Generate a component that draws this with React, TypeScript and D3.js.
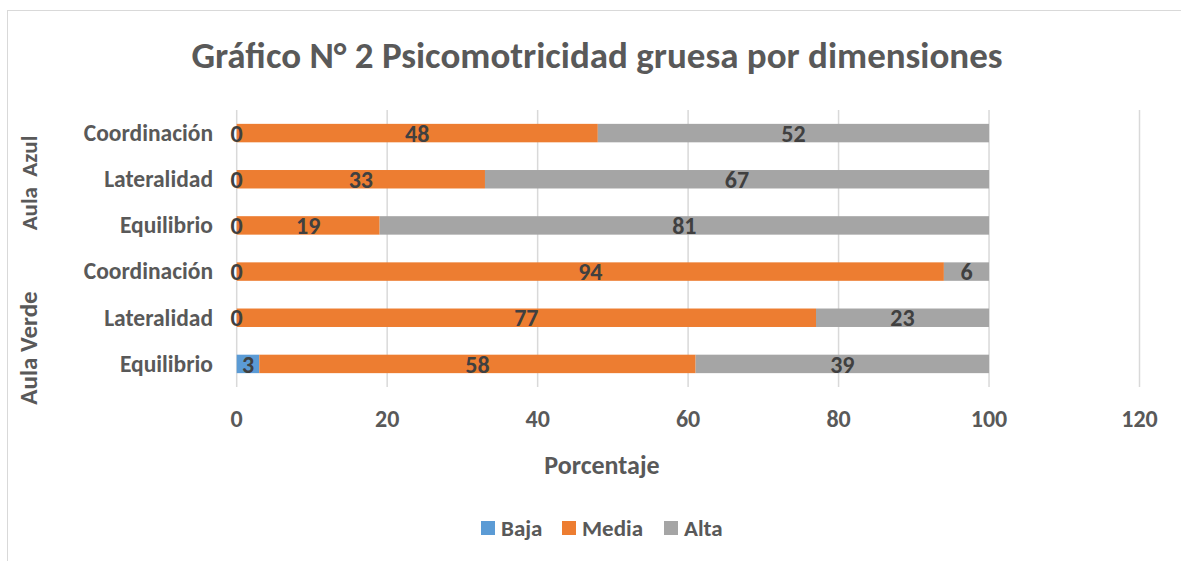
import React from "react";
import { scaleLinear, scaleBand, stack } from "d3";

const categories = ["Equilibrio", "Lateralidad", "Coordinación", "Equilibrio", "Lateralidad", "Coordinación"];
const groupNames = ["Aula Verde", "Aula  Azul"];
const baja = [3, 0, 0, 0, 0, 0];
const media = [58, 77, 94, 19, 33, 48];
const alta = [39, 23, 6, 81, 67, 52];
const seriesNames = ["Baja", "Media", "Alta"];
const xTicks = [0, 20, 40, 60, 80, 100, 120];

const W = 1181;
const H = 561;
const colors = ["#5B9BD5", "#ED7D31", "#A5A5A5"];
const font = "Calibri, Carlito, 'Open Sans', sans-serif";
const textCol = "#595959";

const rows = categories.map((c, i) => ({ id: String(i), Baja: baja[i], Media: media[i], Alta: alta[i] }));
const stacked = stack<any>().keys(seriesNames)(rows);

const x = scaleLinear().domain([0, 120]).range([236.7, 1139.5]);
// first category sits at the bottom, like excel
const y = scaleBand()
  .domain(rows.map(r => r.id).reverse())
  .range([110, 387])
  .paddingInner(0.6)
  .paddingOuter(0.3);

export default function App() {
  const bw = y.bandwidth();
  return (
    <svg width={W} height={H} style={{ position: "absolute", left: 0, top: 0, background: "#fff" }} fontFamily={font} fontWeight="bold">
      <rect x={7.5} y={10.5} width={W} height={H} fill="#fff" stroke="#D9D9D9" />
      <text x={597} y={68} textAnchor="middle" fontSize={37} fill={textCol}>
        Gráfico N° 2 Psicomotricidad gruesa por dimensiones
      </text>

      {xTicks.map(t => (
        <g key={t}>
          <line x1={x(t)} x2={x(t)} y1={110} y2={387} stroke="#D9D9D9" strokeWidth={1.5} />
          <text x={x(t)} y={427} textAnchor="middle" fontSize={24} fill={textCol}>{t}</text>
        </g>
      ))}

      {stacked.map((s, si) => (
        <g key={s.key} fill={colors[si]}>
          {s.map((d, i) => (
            <rect key={i} x={x(d[0])} y={y(rows[i].id)} width={x(d[1]) - x(d[0])} height={bw} />
          ))}
        </g>
      ))}

      {stacked.map((s, si) => (
        <g key={"l" + s.key}>
          {s.map((d, i) => (
            <text key={i} x={(x(d[0]) + x(d[1])) / 2} y={(y(rows[i].id) as number) + bw / 2} dy="0.36em"
              textAnchor="middle" fontSize={24} fill="#404040">{d[1] - d[0]}</text>
          ))}
        </g>
      ))}

      {rows.map((r, i) => (
        <text key={i} x={213} y={(y(r.id) as number) + bw / 2} dy="0.33em" textAnchor="end" fontSize={23.5} fill={textCol}>
          {categories[i]}
        </text>
      ))}

      <text transform="translate(37,348) rotate(-90)" textAnchor="middle" fontSize={25} fill={textCol}>{groupNames[0]}</text>
      <text transform="translate(37,183) rotate(-90)" textAnchor="middle" fontSize={23} fill={textCol} style={{ whiteSpace: "pre" }}>{groupNames[1]}</text>

      <text x={602} y={474} textAnchor="middle" fontSize={26} fill={textCol}>Porcentaje</text>

      {seriesNames.map((n, i) => {
        const lx = [481, 562, 664][i];
        return (
          <g key={n}>
            <rect x={lx} y={521} width={14} height={14} fill={colors[i]} />
            <text x={lx + 20} y={536} fontSize={23} fill={textCol}>{n}</text>
          </g>
        );
      })}
    </svg>
  );
}
